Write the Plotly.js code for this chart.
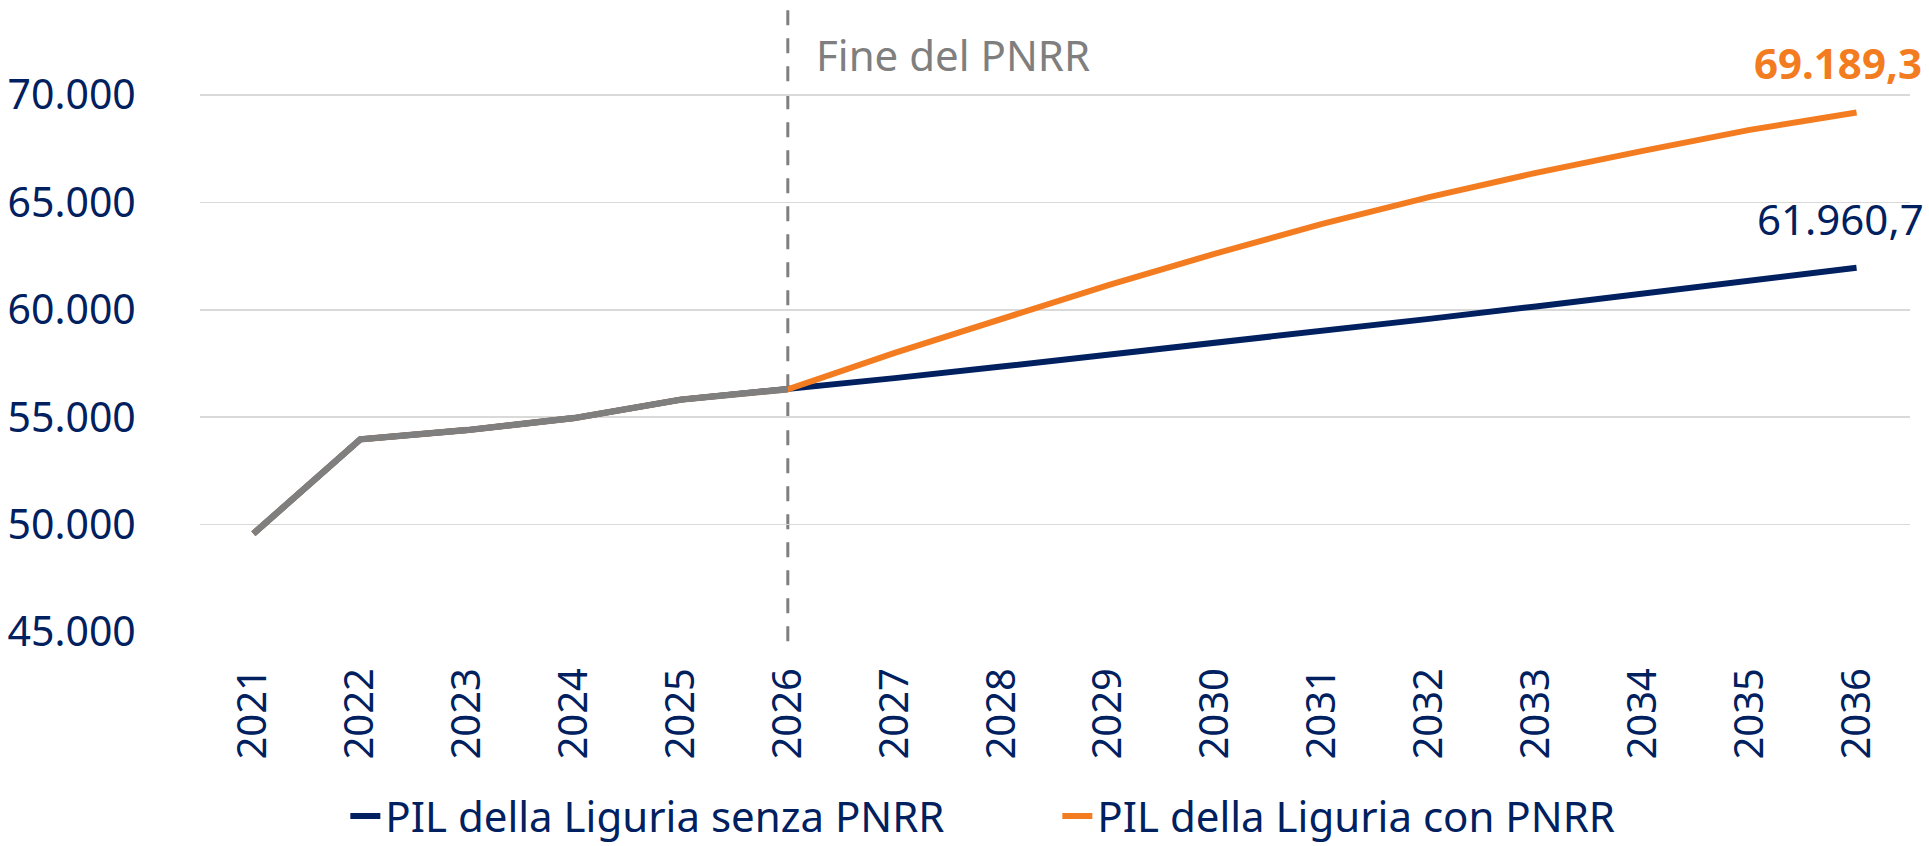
<!DOCTYPE html>
<html>
<head>
<meta charset="utf-8">
<script src="https://cdn.plot.ly/plotly-3.0.1.min.js"></script>
<style>
  html, body { margin: 0; padding: 0; background: #ffffff; }
  #chart { width: 1929px; height: 846px; }
</style>
</head>
<body>
<div id="chart"></div>
<script>
// ---- Data ----
const years = ['2021','2022','2023','2024','2025','2026','2027','2028','2029','2030','2031','2032','2033','2034','2035','2036'];
const historical = [49580, 53970, 54400, 54960, 55820, 56300];           // 2021-2026 (common path)
const senzaPNRR  = [56820, 57360, 57900, 58450, 59010, 59580, 60160, 60750, 61350, 61960.7]; // 2027-2036
const conPNRR    = [58000, 59600, 61150, 62620, 64000, 65250, 66380, 67400, 68380, 69189.3]; // 2027-2036
const seriesNames = ['PIL della Liguria senza PNRR', 'PIL della Liguria con PNRR'];
const markerYear = '2026';
const markerLabel = 'Fine del PNRR';
const yTicks = [45000, 50000, 55000, 60000, 65000, 70000];

// ---- Colours ----
const NAVY = '#002060';
const ORANGE = '#F47C20';
const GREY = '#7F7F7F';

function fmtIt(v) {
  const parts = v.toFixed(1).split('.');
  const intPart = parts[0].replace(/\B(?=(\d{3})+(?!\d))/g, '.');
  return intPart + ',' + parts[1];
}

const senzaFull = historical.concat(senzaPNRR);
const conFull = historical.concat(conPNRR);
const histYears = years.slice(0, historical.length);
const FONT = 'Noto Sans, Open Sans, sans-serif';

const traces = [
  { x: years, y: senzaFull, type: 'scatter', mode: 'lines', name: seriesNames[0],
    line: { color: NAVY, width: 6 }, hoverinfo: 'skip' },
  { x: years, y: conFull, type: 'scatter', mode: 'lines', name: seriesNames[1],
    line: { color: ORANGE, width: 6 }, hoverinfo: 'skip' },
  { x: histYears, y: historical, type: 'scatter', mode: 'lines', name: 'storico',
    line: { color: GREY, width: 6.5 }, showlegend: false, hoverinfo: 'skip' }
];

const lastIdx = years.length - 1;
const lastSenza = senzaFull[lastIdx];
const lastCon = conFull[lastIdx];
const markerIdx = years.indexOf(markerYear);

const layout = {
  width: 1929, height: 846,
  paper_bgcolor: '#ffffff', plot_bgcolor: '#ffffff',
  margin: { l: 200, r: 19, t: 10, b: 214, autoexpand: false },
  separators: ',.',
  font: { family: FONT, color: NAVY, size: 41 },
  showlegend: true,
  legend: {
    orientation: 'h', x: 0.085, xanchor: 'left', y: -0.296, yanchor: 'middle',
    font: { family: FONT, size: 42, color: NAVY },
    entrywidth: 667, entrywidthmode: 'pixels', bgcolor: 'rgba(0,0,0,0)',
    tracegroupgap: 0, itemclick: false, itemdoubleclick: false
  },
  xaxis: {
    type: 'category', range: [-0.5, years.length - 0.5], automargin: false,
    showgrid: false, zeroline: false, showline: false,
    tickangle: -90, ticks: 'outside', ticklen: 19, tickcolor: 'rgba(0,0,0,0)',
    tickfont: { family: FONT, size: 40, color: NAVY }, fixedrange: true
  },
  yaxis: {
    range: [45000, 73961], automargin: false,
    tickvals: yTicks, tickformat: ',d',
    showgrid: true, gridcolor: '#D9D9D9', gridwidth: 1.6,
    zeroline: false, showline: false,
    ticks: 'outside', ticklen: 55, tickcolor: 'rgba(0,0,0,0)',
    tickfont: { family: FONT, size: 41, color: NAVY }, fixedrange: true
  },
  shapes: [{
    type: 'line', xref: 'x', yref: 'paper',
    x0: markerIdx, x1: markerIdx, y0: -0.015, y1: 1,
    line: { color: GREY, width: 3, dash: '15px,13px' }, layer: 'below'
  }],
  annotations: [
    { xref: 'x', yref: 'paper', x: markerIdx, y: 1, xanchor: 'left', yanchor: 'top',
      xshift: 26, yshift: -14, text: markerLabel, showarrow: false,
      font: { family: FONT, size: 42, color: GREY } },
    { xref: 'x', yref: 'y', x: lastIdx, y: lastCon, xanchor: 'right', yanchor: 'bottom',
      xshift: 67, yshift: 19, text: '<b>' + fmtIt(lastCon) + '</b>', showarrow: false,
      font: { family: FONT, size: 42, color: ORANGE } },
    { xref: 'x', yref: 'y', x: lastIdx, y: lastSenza, xanchor: 'right', yanchor: 'bottom',
      xshift: 69, yshift: 19, text: fmtIt(lastSenza), showarrow: false,
      font: { family: FONT, size: 42, color: NAVY } }
  ]
};

Plotly.newPlot('chart', traces, layout, { displayModeBar: false, staticPlot: true });
</script>
</body>
</html>
